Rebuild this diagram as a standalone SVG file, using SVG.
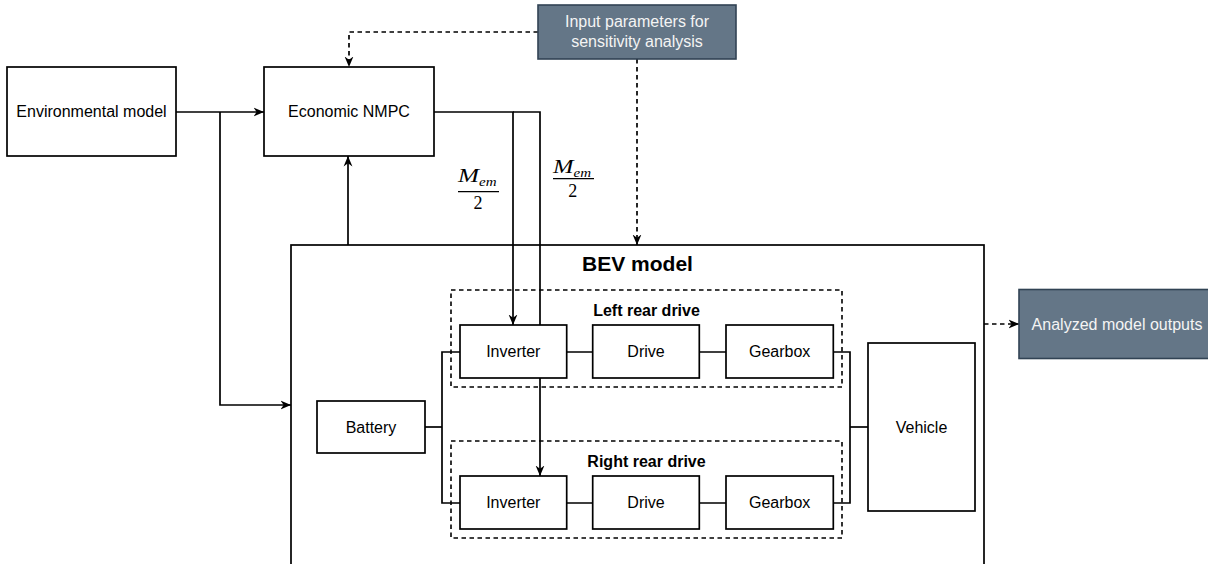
<svg xmlns="http://www.w3.org/2000/svg" width="1208" height="564" viewBox="0 0 1208 564">
  <defs>
    <style>
      .box { fill: #ffffff; stroke: #000000; stroke-width: 1.7; }
      .frame { fill: none; stroke: #000000; stroke-width: 1.7; }
      .group { fill: none; stroke: #000000; stroke-width: 1.6; stroke-dasharray: 4.5 3.5; }
      .dark { fill: #647687; stroke: #314354; stroke-width: 1.6; }
      .wire { fill: none; stroke: #000000; stroke-width: 1.7; }
      .dash { fill: none; stroke: #000000; stroke-width: 1.7; stroke-dasharray: 4.5 3.5; }
      .lbl { font-family: "Liberation Sans", Arial, sans-serif; font-size: 16px; fill: #000000; text-anchor: middle; }
      .lbl-w { font-family: "Liberation Sans", Arial, sans-serif; font-size: 16px; fill: #f4f4f4; text-anchor: middle; }
      .title { font-family: "Liberation Sans", Arial, sans-serif; font-size: 16px; font-weight: bold; fill: #000000; text-anchor: middle; }
      .big { font-family: "Liberation Sans", Arial, sans-serif; font-size: 21px; font-weight: bold; fill: #000000; text-anchor: middle; }
      .math { font-family: "Liberation Serif", "Times New Roman", serif; fill: #000000; }
    </style>
    <marker id="arrow" viewBox="0 0 10 10" refX="10" refY="5" markerWidth="10.5" markerHeight="10.5" markerUnits="userSpaceOnUse" orient="auto">
      <path d="M0,0.8 L10,5 L0,9.2 L3,5 z" fill="#000000"/>
    </marker>
  </defs>

  <!-- BEV model container -->
  <g id="bev-model">
    <rect class="frame" x="291" y="245" width="693" height="340"/>
    <text class="big" x="637.5" y="270.5">BEV model</text>
  </g>

  <!-- drive groups (dashed) -->
  <g id="left-rear-drive">
    <rect class="group" x="451" y="290" width="391" height="97"/>
    <text class="title" x="646.5" y="315.7">Left rear drive</text>
  </g>
  <g id="right-rear-drive">
    <rect class="group" x="451" y="441" width="391" height="97"/>
    <text class="title" x="646.5" y="466.7">Right rear drive</text>
  </g>

  <!-- connectors -->
  <g id="connectors">
    <!-- environment to controller and to BEV -->
    <path class="wire" d="M176,112 H264" marker-end="url(#arrow)"/>
    <path class="wire" d="M220,112 V405 H291" marker-end="url(#arrow)"/>
    <!-- sensitivity inputs -->
    <path class="dash" d="M538,32 H349 V67" marker-end="url(#arrow)"/>
    <path class="dash" d="M637,59 V245" marker-end="url(#arrow)"/>
    <!-- BEV feedback to controller -->
    <path class="wire" d="M348,245 V156" marker-end="url(#arrow)"/>
    <!-- torque split to inverters -->
    <path class="wire" d="M434,112 H513 V325" marker-end="url(#arrow)"/>
    <path class="wire" d="M513,112 H540 V476" marker-end="url(#arrow)"/>
    <!-- battery bus -->
    <path class="wire" d="M425,427 H442"/>
    <path class="wire" d="M460,352 H442 V503 H460"/>
    <!-- drive chains -->
    <path class="wire" d="M566.7,352 H592.7 M699.3,352 H726"/>
    <path class="wire" d="M566.7,503 H592.7 M699.3,503 H726"/>
    <!-- gearboxes to vehicle -->
    <path class="wire" d="M833.3,352 H850 V503 H833.3"/>
    <path class="wire" d="M850,427 H868"/>
    <!-- outputs -->
    <path class="dash" d="M984,324 H1019" marker-end="url(#arrow)"/>
  </g>

  <!-- torque labels -->
  <g id="torque-label-left">
    <text class="math" x="458" y="181.7" font-size="19.5" font-style="italic" textLength="21" lengthAdjust="spacingAndGlyphs">M</text>
    <text class="math" x="479" y="185.5" font-size="13" font-style="italic" textLength="17.5" lengthAdjust="spacingAndGlyphs">em</text>
    <line x1="458" y1="191.7" x2="499" y2="191.7" stroke="#000000" stroke-width="1.3"/>
    <text class="math" x="478" y="209.3" font-size="18" text-anchor="middle">2</text>
  </g>
  <g id="torque-label-right">
    <text class="math" x="553" y="172.7" font-size="19.5" font-style="italic" textLength="20.5" lengthAdjust="spacingAndGlyphs">M</text>
    <text class="math" x="573.5" y="176.5" font-size="13" font-style="italic" textLength="17.5" lengthAdjust="spacingAndGlyphs">em</text>
    <line x1="553" y1="178.7" x2="594" y2="178.7" stroke="#000000" stroke-width="1.3"/>
    <text class="math" x="572.7" y="197.3" font-size="18" text-anchor="middle">2</text>
  </g>

  <!-- nodes -->
  <g id="environmental-model">
    <rect class="box" x="7" y="67" width="169" height="89"/>
    <text class="lbl" x="91.5" y="117.3">Environmental model</text>
  </g>
  <g id="economic-nmpc">
    <rect class="box" x="264" y="67" width="170" height="89"/>
    <text class="lbl" x="349" y="117.3">Economic NMPC</text>
  </g>
  <g id="input-parameters">
    <rect class="dark" x="538" y="5" width="198" height="54"/>
    <text class="lbl-w" x="637" y="27.3">Input parameters for</text>
    <text class="lbl-w" x="637" y="47.3">sensitivity analysis</text>
  </g>
  <g id="analyzed-outputs">
    <rect class="dark" x="1019" y="289.5" width="200" height="69"/>
    <text class="lbl-w" x="1117" y="329.7">Analyzed model outputs</text>
  </g>
  <g id="battery">
    <rect class="box" x="317" y="401" width="108" height="52"/>
    <text class="lbl" x="371" y="432.7">Battery</text>
  </g>
  <g id="vehicle">
    <rect class="box" x="868" y="343" width="107" height="168"/>
    <text class="lbl" x="921.5" y="432.7">Vehicle</text>
  </g>
  <g id="inverter-left">
    <rect class="box" x="460" y="325" width="106.7" height="53"/>
    <text class="lbl" x="513.3" y="357.3">Inverter</text>
  </g>
  <g id="drive-left">
    <rect class="box" x="592.7" y="325" width="106.6" height="53"/>
    <text class="lbl" x="646" y="357.3">Drive</text>
  </g>
  <g id="gearbox-left">
    <rect class="box" x="726" y="325" width="107.3" height="53"/>
    <text class="lbl" x="779.7" y="357.3">Gearbox</text>
  </g>
  <g id="inverter-right">
    <rect class="box" x="460" y="476" width="106.7" height="53"/>
    <text class="lbl" x="513.3" y="508.3">Inverter</text>
  </g>
  <g id="drive-right">
    <rect class="box" x="592.7" y="476" width="106.6" height="53"/>
    <text class="lbl" x="646" y="508.3">Drive</text>
  </g>
  <g id="gearbox-right">
    <rect class="box" x="726" y="476" width="107.3" height="53"/>
    <text class="lbl" x="779.7" y="508.3">Gearbox</text>
  </g>
</svg>
